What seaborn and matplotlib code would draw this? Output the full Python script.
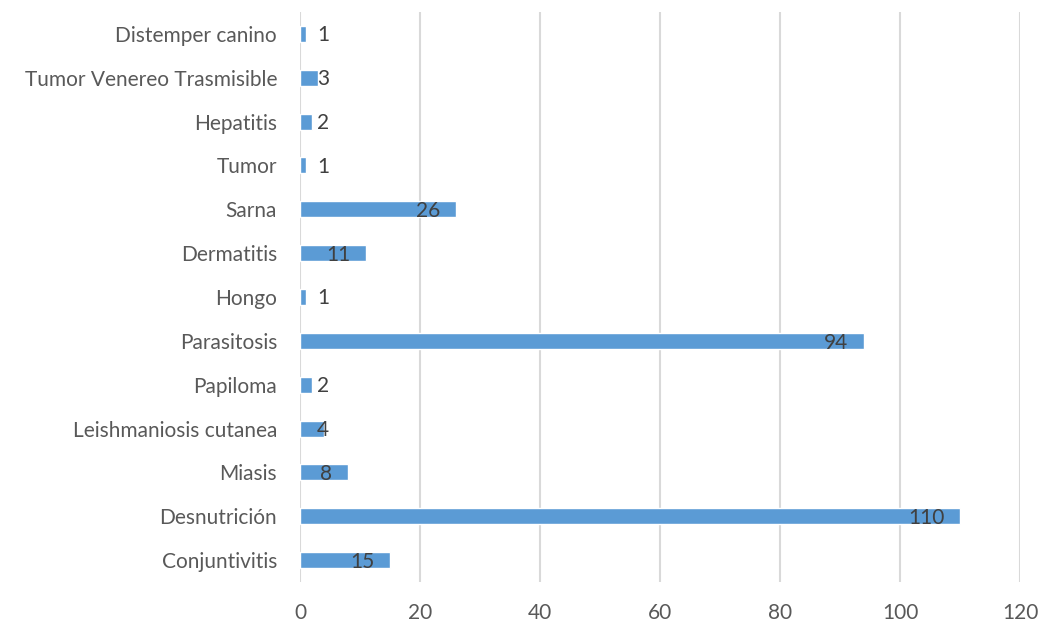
import matplotlib
matplotlib.use("Agg")
import matplotlib.pyplot as plt
import seaborn as sns
import pandas as pd

# Cases per diagnosis, listed top to bottom as drawn
categories = [
    "Distemper canino", "Tumor Venereo Trasmisible", "Hepatitis", "Tumor",
    "Sarna", "Dermatitis", "Hongo", "Parasitosis", "Papiloma",
    "Leishmaniosis cutanea", "Miasis", "Desnutrición", "Conjuntivitis",
]
cases = [1, 3, 2, 1, 26, 11, 1, 94, 2, 4, 8, 110, 15]
x_ticks = [0, 20, 40, 60, 80, 100, 120]

df = pd.DataFrame({"categoria": categories, "casos": cases})

sns.set_theme(style="white")
plt.rcParams["font.family"] = ["Lato", "DejaVu Sans"]

fig = plt.figure(figsize=(10.42, 6.35), dpi=100)
ax = fig.add_axes([300 / 1042, 1 - 582 / 635, 720 / 1042, 570 / 635])

sns.barplot(data=df, x="casos", y="categoria", orient="h", color="#5B9BD5",
            saturation=1, width=0.365, ax=ax, zorder=3)

ax.set_xlim(0, 120)
ax.set_ylim(len(categories) - 0.5, -0.5)
ax.set_xticks(x_ticks)
ax.set_xlabel("")
ax.set_ylabel("")
ax.grid(axis="x", color="#D9D9D9", linewidth=1.5, zorder=0)
ax.grid(axis="y", visible=False)
for s in ax.spines.values():
    s.set_visible(False)
ax.tick_params(axis="both", length=0, labelsize=15, colors="#595959")
ax.tick_params(axis="y", pad=16.5)
ax.tick_params(axis="x", pad=15)

# Value labels at the inside end of each bar
for i, v in enumerate(cases):
    if v <= 4:
        ax.text(2.8, i + 0.03, str(v), ha="left", va="center",
                fontsize=15, color="#404040", zorder=4)
    else:
        ax.text(v - 2.6, i + 0.04, str(v), ha="right", va="center",
                fontsize=15, color="#404040", zorder=4)

fig.savefig("out.png", dpi=100)
